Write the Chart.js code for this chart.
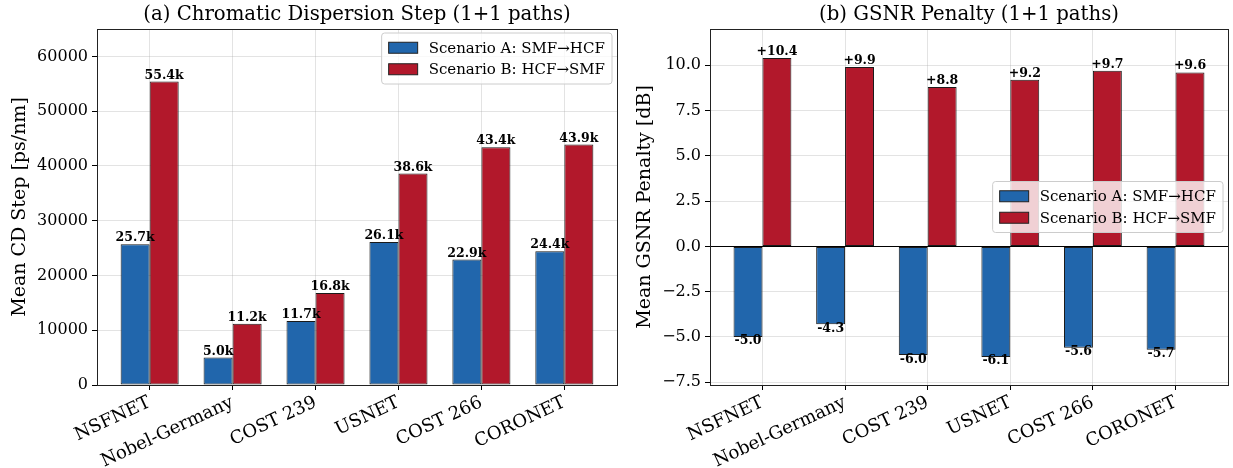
<!DOCTYPE html>
<html>
<head>
<meta charset="utf-8">
<script src="https://cdn.jsdelivr.net/npm/chart.js@4.4.1/dist/chart.umd.min.js"></script>
<style>
  body { margin: 0; background: #fff; }
  .wrap { position: relative; width: 1233px; height: 468px; }
  canvas { position: absolute; top: 0; }
</style>
</head>
<body>
<div class="wrap">
  <canvas id="cdChart" width="620" height="468" style="left:0px"></canvas>
  <canvas id="gsnrChart" width="613" height="468" style="left:620px"></canvas>
</div>
<script>
// data
const categories = ['NSFNET', 'Nobel-Germany', 'COST 239', 'USNET', 'COST 266', 'CORONET'];
const seriesLabels = ['Scenario A: SMF\u2192HCF', 'Scenario B: HCF\u2192SMF'];
const cdScenarioA = [25700, 5000, 11700, 26100, 22900, 24400];
const cdScenarioB = [55400, 11200, 16800, 38600, 43400, 43900];
const gsnrScenarioA = [-5.0, -4.3, -6.0, -6.1, -5.6, -5.7];
const gsnrScenarioB = [10.4, 9.9, 8.8, 9.2, 9.7, 9.6];
const cdTicks = [0, 10000, 20000, 30000, 40000, 50000, 60000];
const gsnrTicks = [-7.5, -5.0, -2.5, 0, 2.5, 5.0, 7.5, 10.0];

const colorA = '#2166ac';
const colorB = '#b2182b';
const FONT = '"DejaVu Serif", "Liberation Serif", serif';
const gridColor = 'rgba(176,176,176,0.35)';

// title centred over the plot area (matplotlib style)
function titlePlugin(text) {
    return {
        id: 'axesTitle',
        afterDraw(chart) {
            const ctx = chart.ctx;
            const a = chart.chartArea;
            ctx.save();
            ctx.font = '19.7px ' + FONT;
            ctx.fillStyle = '#000';
            ctx.textAlign = 'center';
            ctx.textBaseline = 'middle';
            ctx.fillText(text, (a.left + a.right) / 2, 15);
            ctx.restore();
        }
    };
}

// frame around the plot area (+ optional zero line)
function framePlugin(zeroLine) {
    return {
        id: 'frame',
        afterDatasetsDraw(chart) {
            const ctx = chart.ctx;
            const a = chart.chartArea;
            ctx.save();
            if (zeroLine) {
                const y0 = Math.round(chart.scales.y.getPixelForValue(0)) + 0.5;
                ctx.strokeStyle = '#000';
                ctx.lineWidth = 1;
                ctx.beginPath();
                ctx.moveTo(a.left, y0);
                ctx.lineTo(a.right, y0);
                ctx.stroke();
            }
            ctx.strokeStyle = '#222';
            ctx.lineWidth = 1;
            ctx.strokeRect(Math.round(a.left) + 0.5, Math.round(a.top) + 0.5,
                Math.round(a.right - a.left), Math.round(a.bottom - a.top));
            ctx.restore();
        }
    };
}

// bold value labels above / below each bar
function valueLabelPlugin(format) {
    return {
        id: 'valueLabels',
        afterDatasetsDraw(chart) {
            const ctx = chart.ctx;
            ctx.save();
            ctx.font = 'bold 12.5px ' + FONT;
            ctx.fillStyle = '#000';
            ctx.textAlign = 'center';
            chart.data.datasets.forEach((ds, di) => {
                chart.getDatasetMeta(di).data.forEach((bar, i) => {
                    const v = ds.data[i].y;
                    if (v >= 0) {
                        ctx.textBaseline = 'bottom';
                        ctx.fillText(format(v), bar.x, bar.y);
                    } else {
                        ctx.textBaseline = 'top';
                        ctx.fillText(format(v), bar.x, bar.y - 2);
                    }
                });
            });
            ctx.restore();
        }
    };
}

// matplotlib-like legend box
function legendPlugin(where) {
    return {
        id: 'boxLegend',
        afterDraw(chart) {
            const ctx = chart.ctx;
            const a = chart.chartArea;
            ctx.save();
            ctx.font = '15px ' + FONT;
            const textW = Math.max(...seriesLabels.map(t => ctx.measureText(t).width));
            const patchW = 29, patchH = 11, pad = 7, gap = 11, rowH = 21.5;
            const w = pad + patchW + gap + textW + pad;
            const h = rowH * 2 + 8;
            const x = a.right - 5 - w;
            const y = where === 'top' ? a.top + 4 : (a.top + a.bottom) / 2 - h / 2;
            ctx.fillStyle = 'rgba(255,255,255,0.8)';
            ctx.strokeStyle = '#cccccc';
            ctx.lineWidth = 1;
            ctx.beginPath();
            ctx.roundRect(x, y, w, h, 3);
            ctx.fill();
            ctx.stroke();
            [colorA, colorB].forEach((c, i) => {
                const cy = y + 4 + rowH * i + rowH / 2;
                ctx.fillStyle = c;
                ctx.fillRect(x + pad, cy - patchH / 2, patchW, patchH);
                ctx.strokeStyle = '#222';
                ctx.strokeRect(x + pad, cy - patchH / 2, patchW, patchH);
                ctx.fillStyle = '#000';
                ctx.textBaseline = 'middle';
                ctx.textAlign = 'left';
                ctx.fillText(seriesLabels[i], x + pad + patchW + gap, cy + 1);
            });
            ctx.restore();
        }
    };
}

function makeDatasets(valsA, valsB) {
    const base = {
        borderColor: '#1a1a1a',
        borderWidth: 1,
        borderSkipped: false,
        categoryPercentage: 0.7,
        barPercentage: 1.0
    };
    return [
        Object.assign({ label: seriesLabels[0], backgroundColor: colorA,
            data: valsA.map((v, i) => ({ x: i, y: v })) }, base),
        Object.assign({ label: seriesLabels[1], backgroundColor: colorB,
            data: valsB.map((v, i) => ({ x: i, y: v })) }, base)
    ];
}

function makeChart(id, cfg) {
    const ctx = document.getElementById(id).getContext('2d');
    return new Chart(ctx, {
        type: 'bar',
        data: { datasets: makeDatasets(cfg.valsA, cfg.valsB) },
        options: {
            responsive: false,
            animation: false,
            events: [],
            layout: { padding: { left: 0, right: cfg.padRight, top: 29, bottom: 0 } },
            plugins: {
                legend: { display: false },
                tooltip: { enabled: false },
                title: { display: false }
            },
            scales: {
                x: {
                    type: 'linear',
                    min: -0.635,
                    max: 5.635,
                    offset: false,
                    afterBuildTicks: axis => { axis.ticks = categories.map((c, i) => ({ value: i })); },
                    afterFit: axis => { axis.height = 83; },
                    grid: { color: gridColor, tickColor: '#000', tickLength: 5, offset: false },
                    border: { display: false },
                    ticks: {
                        autoSkip: false,
                        minRotation: 25,
                        maxRotation: 25,
                        padding: 2,
                        color: '#000',
                        font: { family: FONT, size: 18 },
                        callback: v => categories[v]
                    }
                },
                y: {
                    min: cfg.yMin,
                    max: cfg.yMax,
                    afterBuildTicks: axis => { axis.ticks = cfg.yTicks.map(v => ({ value: v })); },
                    afterFit: axis => { axis.width = cfg.yWidth; },
                    grid: { color: gridColor, tickColor: '#000', tickLength: 5 },
                    border: { display: false },
                    ticks: {
                        padding: 4,
                        color: '#000',
                        font: { family: FONT, size: 16 },
                        callback: cfg.tickFormat
                    },
                    title: {
                        display: true,
                        text: cfg.yTitle,
                        color: '#000',
                        font: { family: FONT, size: 19 },
                        padding: { top: cfg.titlePad, bottom: 0 }
                    }
                }
            }
        },
        plugins: [framePlugin(cfg.zeroLine), valueLabelPlugin(cfg.labelFormat),
                  legendPlugin(cfg.legendAt), titlePlugin(cfg.title)]
    });
}

makeChart('cdChart', {
    valsA: cdScenarioA,
    valsB: cdScenarioB,
    title: '(a) Chromatic Dispersion Step (1+1 paths)',
    yTitle: 'Mean CD Step [ps/nm]',
    yMin: 0,
    yMax: 65000,
    yTicks: cdTicks,
    yWidth: 97,
    padRight: 3,
    titlePad: 9,
    tickFormat: v => String(v),
    labelFormat: v => (v / 1000).toFixed(1) + 'k',
    zeroLine: false,
    legendAt: 'top'
});

makeChart('gsnrChart', {
    valsA: gsnrScenarioA,
    valsB: gsnrScenarioB,
    title: '(b) GSNR Penalty (1+1 paths)',
    yTitle: 'Mean GSNR Penalty [dB]',
    yMin: -7.65,
    yMax: 12.0,
    yTicks: gsnrTicks,
    yWidth: 90,
    padRight: 5,
    titlePad: 14,
    tickFormat: v => (v < 0 ? '\u2212' : '') + Math.abs(v).toFixed(1),
    labelFormat: v => (v > 0 ? '+' : '') + v.toFixed(1),
    zeroLine: true,
    legendAt: 'center'
});
</script>
</body>
</html>
